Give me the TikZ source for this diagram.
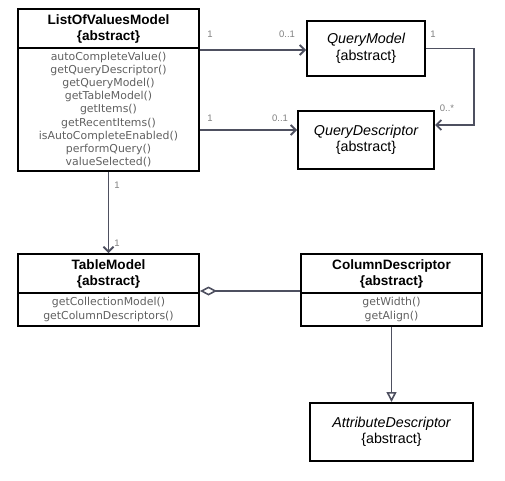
\documentclass[tikz,border=0pt]{standalone}
\usepackage{fontspec}
\setmainfont{Liberation Sans}
\newfontfamily\methfont{DejaVu Sans}
\usetikzlibrary{arrows.meta,positioning}
\definecolor{linegray}{HTML}{4E5060}
\definecolor{methgray}{HTML}{606060}
\definecolor{labgray}{HTML}{808080}
\tikzset{
	classhead/.style={draw=black,line width=2pt,inner sep=0pt,align=center,
		minimum width=#1,font=\fontsize{13.6}{16}\selectfont},
	classhead/.default=181pt,
	methods/.style={draw=black,line width=2pt,inner sep=0pt,align=center,
		minimum width=181pt,text=methgray,font=\methfont\fontsize{10.9}{13.1}\selectfont},
	assoc/.style={draw=linegray,line width=1.8pt,-{Straight Barb[length=5pt,width=10pt]}},
	aggr/.style={draw=linegray,line width=1.8pt,{Diamond[open,length=17pt,width=9pt,line width=1.6pt]}-},
	gener/.style={draw=linegray,line width=1.8pt,-{Triangle[open,length=10pt,width=10pt,fill=white,line width=1.6pt]}},
	mult/.style={text=labgray,font=\fontsize{9.5}{11}\selectfont,inner sep=0pt}
}
\begin{document}
\begin{tikzpicture}[x=1pt,y=-1pt]
			\useasboundingbox (0,0) rectangle (505,480);
			
			\node[classhead,minimum height=39pt] (lovm) at (108.5,28.5) {\bfseries ListOfValuesModel\\\bfseries\{abstract\}};
			\node[methods,minimum height=123pt] (lovmM) at (108.5,109.5) {autoCompleteValue()\\getQueryDescriptor()\\getQueryModel()\\getTableModel()\\getItems()\\getRecentItems()\\isAutoCompleteEnabled()\\performQuery()\\valueSelected()};
			
			\node[classhead=118pt,minimum height=55pt,font=\fontsize{14.3}{16.5}\selectfont] (qm) at (366,48.5) {\itshape QueryModel\\\{abstract\}};
			\node[classhead=136pt,minimum height=58pt,font=\fontsize{14.3}{16.5}\selectfont] (qd) at (366,140) {\itshape QueryDescriptor\\\{abstract\}};
			
			\node[classhead,minimum height=39pt] (tm) at (108.5,273.5) {\bfseries TableModel\\\bfseries\{abstract\}};
			\node[methods,minimum height=33pt] (tmM) at (108.5,309.5) {getCollectionModel()\\getColumnDescriptors()};
			
			\node[classhead,minimum height=39pt] (cd) at (391.5,273.5) {\bfseries ColumnDescriptor\\\bfseries\{abstract\}};
			\node[methods,minimum height=33pt] (cdM) at (391.5,309.5) {getWidth()\\getAlign()};
			
			\node[classhead=163pt,minimum height=58pt,font=\fontsize{14.3}{16.5}\selectfont] (ad) at (391.5,432) {\itshape AttributeDescriptor\\\{abstract\}};
			
			\coordinate (qdIn) at ([yshift=10pt]qd.west);
			\coordinate (qdR) at ([yshift=15pt]qd.east);
			\coordinate (bend) at (474,48.5);
			
			%multiplicities
			\node[mult] (m1) at (210,34) {1};
			\node[mult] (m2) at (287,34) {0..1};
			\node[mult] (m3) at (433,34) {1};
			\node[mult] (m4) at (447,108) {0..*};
			\node[mult] (m5) at (210,118) {1};
			\node[mult] (m6) at (280,118) {0..1};
			\node[mult] (m7) at (117,185) {1};
			\node[mult] (m8) at (117,243) {1};
			
			\draw[assoc] ([yshift=-1.5pt]qm.west -| lovmM.east) to ([yshift=-1.5pt]qm.west);
			\draw[assoc] (qdIn -| lovmM.east) to (qdIn);
			\draw[assoc] (qm.east) -- (bend) |- (qdR);
			\draw[assoc] (lovmM.south) to (tm.north);
			\draw[aggr] ([yshift=3pt]tm.south east) to ([yshift=3pt]cd.south west);
			\draw[gener] (cdM.south) to (ad.north);
			\end{tikzpicture}
\end{document}
